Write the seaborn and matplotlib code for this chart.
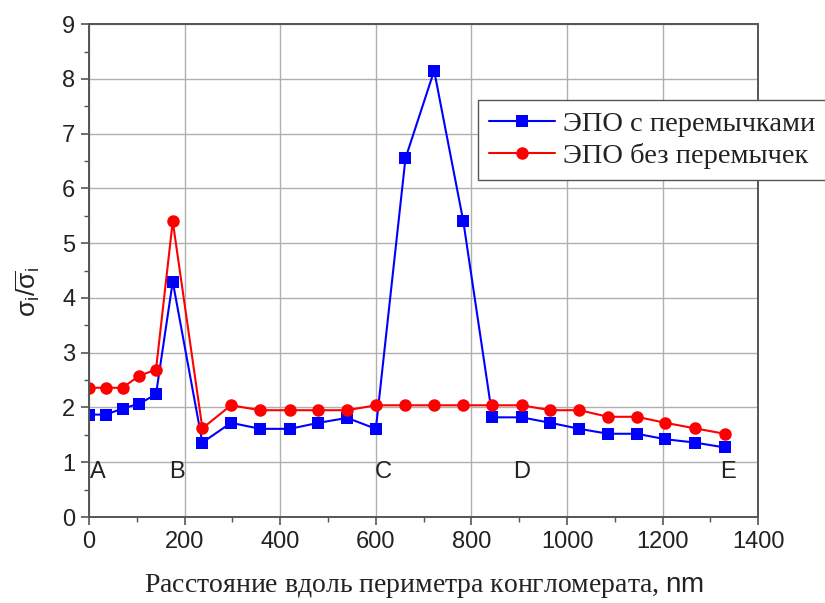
import matplotlib
matplotlib.use("Agg")
import matplotlib.pyplot as plt
import seaborn as sns
import pandas as pd
from matplotlib.ticker import MultipleLocator

# Distance along the conglomerate perimeter, nm
distance = [0, 35, 70, 105, 140, 175, 237, 297, 358, 420, 480, 540, 600,
            662, 722, 783, 844, 905, 965, 1026, 1086, 1146, 1206, 1267, 1330]

# Normalised stress, sigma_i / mean(sigma_i)
with_bridges = [1.87, 1.87, 1.98, 2.07, 2.24, 4.30, 1.36, 1.72, 1.61, 1.61,
                1.72, 1.81, 1.61, 6.55, 8.15, 5.40, 1.82, 1.82, 1.72, 1.61,
                1.52, 1.52, 1.42, 1.36, 1.27]
without_bridges = [2.36, 2.36, 2.36, 2.58, 2.69, 5.40, 1.62, 2.04, 1.95, 1.95,
                   1.95, 1.95, 2.04, 2.04, 2.04, 2.04, 2.04, 2.04, 1.95, 1.95,
                   1.83, 1.83, 1.72, 1.62, 1.52]

series_names = ["ЭПО с перемычками", "ЭПО без перемычек"]
point_labels = ["A", "B", "C", "D", "E"]
point_label_x = [19, 184, 615, 906, 1337]

df = pd.concat([
    pd.DataFrame({"x": distance, "y": with_bridges, "series": series_names[0]}),
    pd.DataFrame({"x": distance, "y": without_bridges, "series": series_names[1]}),
], ignore_index=True)

sns.set_theme(style="white")
plt.rcParams["font.family"] = ["Liberation Sans", "DejaVu Sans"]
plt.rcParams["mathtext.fontset"] = "custom"
plt.rcParams["mathtext.rm"] = "Liberation Serif"
plt.rcParams["mathtext.sf"] = "Liberation Sans"
plt.rcParams["mathtext.it"] = "Liberation Sans:italic"

fig = plt.figure(figsize=(8.25, 6.03), dpi=100)
ax = fig.add_axes([0.108, 0.1426, 0.811, 0.8174])

sns.lineplot(data=df, x="x", y="y", hue="series", style="series",
             palette={series_names[0]: "#0000FF", series_names[1]: "#FF0000"},
             markers={series_names[0]: "s", series_names[1]: "o"},
             dashes=False, markersize=9, markeredgewidth=0, linewidth=1.5,
             sort=False, ax=ax)

ax.set_xlim(0, 1400)
ax.set_ylim(0, 9)
ax.xaxis.set_major_locator(MultipleLocator(200))
ax.xaxis.set_minor_locator(MultipleLocator(100))
ax.yaxis.set_major_locator(MultipleLocator(1))
ax.yaxis.set_minor_locator(MultipleLocator(0.5))
ax.grid(True, which="major", color="#b0b0b0", linewidth=1.0)
ax.set_axisbelow(True)

for side in ax.spines.values():
    side.set_color("#555555")
    side.set_linewidth(1.4)

ax.tick_params(which="major", direction="out", length=6, width=1.2,
               color="#555555", labelsize=17, labelcolor="#222222", pad=4,
               bottom=True, left=True)
ax.tick_params(which="minor", direction="out", length=3.5, width=1.0,
               color="#555555", bottom=True, left=True)

# Point markers along the perimeter
for lab, lx in zip(point_labels, point_label_x):
    ax.text(lx, 0.82, lab, ha="center", va="center", fontsize=17,
            color="#222222")

ax.set_xlabel("Расстояние вдоль периметра конгломерата, $\\mathsf{nm}$",
              family="Liberation Serif", fontsize=20, color="#222222",
              labelpad=14)
ax.set_ylabel("$\\mathsf{\\sigma_i/\\overline{\\sigma}_i}$", fontsize=19,
              color="#222222")
ax.yaxis.set_label_coords(-0.07, 0.456)

leg = ax.legend(loc="upper left", bbox_to_anchor=(0.581, 0.846),
                borderaxespad=0, frameon=True, fancybox=False,
                prop={"family": "Liberation Serif", "size": 20.5},
                handlelength=2.3, handletextpad=0.3, borderpad=0.4,
                labelspacing=0.2)
leg.get_frame().set_edgecolor("#555555")
leg.get_frame().set_linewidth(1.0)
leg.get_frame().set_alpha(1.0)
leg.set_title(None)
for t in leg.get_texts():
    t.set_color("#222222")

fig.savefig("out.png", dpi=100)
